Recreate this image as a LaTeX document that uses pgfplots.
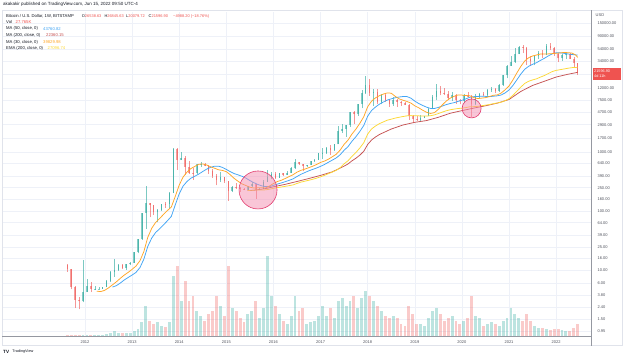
\documentclass[border=0pt]{standalone}
\usepackage{pgfplots}
\pgfplotsset{compat=1.18}
\usepackage{pgfplotstable}
\usepackage{fontspec}
\setmainfont{Liberation Sans}
\definecolor{upc}{RGB}{38,166,154}
\definecolor{dnc}{RGB}{239,83,80}
\definecolor{maA}{RGB}{66,165,245}
\definecolor{maB}{RGB}{255,167,38}
\definecolor{maC}{RGB}{253,216,53}
\definecolor{maD}{RGB}{198,83,83}
\definecolor{txt}{RGB}{19,23,34}
\definecolor{axt}{RGB}{80,83,94}
\definecolor{gridc}{RGB}{238,241,248}
\definecolor{sep}{RGB}{149,152,161}
\definecolor{frame}{RGB}{224,227,235}
\definecolor{pinkf}{RGB}{244,143,177}
\definecolor{pinkd}{RGB}{226,60,110}

\pgfplotstableread{
x o h l c v d
2011.625 12.5 13 9.5 10.5 1 0
2011.708 10.5 10.5 4.8 5.2 1 0
2011.792 5.2 5.5 2.3 3.2 1 0
2011.875 3.2 3.6 2.2 3.0 1 0
2011.958 3.0 15 2.9 4.3 1 1
2012.042 4.3 7.2 4.3 5.5 1 1
2012.125 5.5 6.3 4.3 4.9 1 0
2012.208 4.9 5.4 4.7 4.92 1 1
2012.292 4.92 5.3 4.7 4.95 1 1
2012.375 4.95 5.3 4.9 5.2 1 1
2012.458 5.2 6.8 5.2 6.7 2 1
2012.542 6.7 9.6 6.5 9.3 3 1
2012.625 9.3 15.4 7.8 10.2 5 1
2012.708 10.2 12.6 9.9 12.4 3 1
2012.792 12.4 12.9 10.5 11.2 3 0
2012.875 11.2 13.0 10.2 12.6 3 1
2012.958 12.6 13.9 12.4 13.5 3 1
2013.042 13.5 20.7 13.3 20.4 5 1
2013.125 20.4 33.8 19.5 33.4 7 1
2013.208 33.4 95 33 93 14 1
2013.292 93 266 50 139 30 1
2013.375 139 140 79 129 15 0
2013.458 129 129 88 97 12 0
2013.542 97 110 65 106 14 1
2013.625 106 135 101 135 10 1
2013.708 135 145 114 133 9 0
2013.792 133 210 108 204 14 1
2013.875 204 1163 203 1120 60 1
2013.958 1120 1150 500 732 70 0
2014.042 732 990 730 800 35 1
2014.125 800 850 410 560 55 0
2014.208 560 710 430 450 35 0
2014.292 450 540 340 445 40 0
2014.375 445 630 420 630 25 1
2014.458 630 680 560 640 20 1
2014.542 640 650 575 585 15 0
2014.625 585 600 430 480 22 0
2014.708 480 510 365 388 25 0
2014.792 388 420 275 338 40 0
2014.875 338 460 310 378 30 1
2014.958 378 385 300 320 20 0
2015.042 320 320 152 218 70 0
2015.125 218 265 210 254 28 1
2015.208 254 300 235 244 25 0
2015.292 244 260 215 236 18 0
2015.375 236 245 228 230 14 0
2015.458 230 266 220 263 22 1
2015.542 263 318 253 284 25 1
2015.625 284 284 162 230 35 0
2015.708 230 245 225 236 18 1
2015.792 236 335 236 314 28 1
2015.875 314 500 310 377 80 1
2015.958 377 465 345 430 40 1
2016.042 430 462 350 368 30 0
2016.125 368 445 368 437 22 1
2016.208 437 440 400 416 15 0
2016.292 416 470 412 448 12 1
2016.375 448 550 440 530 20 1
2016.458 530 778 525 675 40 1
2016.542 675 680 600 624 25 0
2016.625 624 630 470 573 28 0
2016.708 573 615 570 609 12 1
2016.792 609 715 605 700 14 1
2016.875 700 755 680 742 15 1
2016.958 742 980 740 964 20 1
2017.042 964 1150 750 970 30 1
2017.125 970 1200 920 1190 20 1
2017.208 1190 1300 890 1080 28 0
2017.292 1080 1370 1050 1350 18 1
2017.375 1350 2760 1350 2300 35 1
2017.458 2300 3000 2100 2480 38 1
2017.542 2480 2920 1830 2860 30 1
2017.625 2860 4750 2700 4700 35 1
2017.708 4700 4980 2970 4340 40 0
2017.792 4340 6470 4100 6470 28 1
2017.875 6470 11400 5500 9950 38 1
2017.958 9950 19650 9500 13800 45 1
2018.042 13800 17200 9000 10100 40 0
2018.125 10100 11800 6000 10300 35 1
2018.208 10300 11700 6500 6900 30 0
2018.292 6900 9750 6420 9240 25 1
2018.375 9240 9990 7040 7490 20 0
2018.458 7490 7760 5780 6390 18 0
2018.542 6390 8500 6070 7730 20 1
2018.625 7730 7870 5880 7030 18 0
2018.708 7030 7400 6100 6630 12 0
2018.792 6630 7000 6200 6370 10 0
2018.875 6370 6600 3500 4020 30 0
2018.958 4020 4250 3150 3690 22 0
2019.042 3690 4090 3350 3440 12 0
2019.125 3440 4200 3380 3820 12 1
2019.208 3820 4130 3700 4100 10 1
2019.292 4100 5620 4050 5320 18 1
2019.375 5320 9080 5300 8560 25 1
2019.458 8560 13880 7450 10800 28 1
2019.542 10800 13150 9070 10080 22 0
2019.625 10080 12330 9350 9600 15 0
2019.708 9600 10950 7700 8300 18 0
2019.792 8300 10380 7300 9150 20 1
2019.875 9150 9500 6500 7550 15 0
2019.958 7550 7740 6430 7190 12 0
2020.042 7190 9580 6880 9350 15 1
2020.125 9350 10500 8430 8560 18 0
2020.208 8560 9190 3850 6420 40 0
2020.292 6420 9460 6150 8630 20 1
2020.375 8630 10070 8100 9450 18 1
2020.458 9450 10400 8900 9140 10 0
2020.542 9140 11440 9000 11340 12 1
2020.625 11340 12470 10550 11650 14 1
2020.708 11650 12080 9880 10780 12 0
2020.792 10780 14100 10400 13800 10 1
2020.875 13800 19900 13200 19700 15 1
2020.958 19700 29300 17600 28990 18 1
2021.042 28990 41950 28700 33140 28 1
2021.125 33140 58350 32300 45200 22 1
2021.208 45200 61800 45000 58800 18 1
2021.292 58800 64900 47000 57750 15 0
2021.375 57750 59600 30000 37300 22 0
2021.458 37300 41300 28800 35000 15 0
2021.542 35000 42300 29300 41500 10 1
2021.625 41500 50500 37300 47100 8 1
2021.708 47100 52900 39600 43800 8 0
2021.792 43800 67000 43300 61300 7 1
2021.875 61300 69000 53300 57000 6 0
2021.958 57000 59000 42000 46200 7 0
2022.042 46200 48000 33000 38500 7 0
2022.125 38500 45800 34300 43200 6 1
2022.208 43200 48200 37200 45500 5 1
2022.292 45500 47400 37600 37700 5 0
2022.375 37700 40000 26700 31800 8 0
2022.458 31800 31900 20080 21600 12 0
}\candles

\pgfplotstableread{
x y
2012.250 4.46
2012.333 4.39
2012.417 4.61
2012.500 5.07
2012.583 5.71
2012.667 6.43
2012.750 7.36
2012.833 8.34
2012.917 9.27
2013.000 10.44
2013.083 11.87
2013.167 14.59
2013.250 20.87
2013.333 36.37
2013.417 51.54
2013.500 64.9
2013.583 75.1
2013.667 88.6
2013.750 103
2013.833 118
2013.917 179
2014.000 277
2014.083 380
2014.167 461
2014.250 528
2014.333 574
2014.417 623
2014.500 631
2014.583 606
2014.667 563
2014.750 534
2014.833 503
2014.917 490
2015.000 467
2015.083 414
2015.167 359
2015.250 321
2015.333 290
2015.417 272
2015.500 255
2015.583 247
2015.667 249
2015.750 249
2015.833 248
2015.917 267
2016.000 294
2016.083 318
2016.167 334
2016.250 358
2016.333 386
2016.417 415
2016.500 458
2016.583 491
2016.667 516
2016.750 545
2016.833 577
2016.917 618
2017.000 669
2017.083 704
2017.167 759
2017.250 834
2017.333 919
2017.417 1084
2017.500 1353
2017.583 1593
2017.667 2021
2017.750 2443
2017.833 3057
2017.917 3957
2018.000 5843
2018.083 7257
2018.167 8257
2018.250 8986
2018.333 9557
2018.417 10000
2018.500 9886
2018.583 8771
2018.667 7943
2018.750 7529
2018.833 7164
2018.917 6736
2019.000 6050
2019.083 5607
2019.167 5100
2019.250 4707
2019.333 4493
2019.417 4643
2019.500 5286
2019.583 6257
2019.667 7271
2019.750 8136
2019.833 8757
2019.917 9214
2020.000 9186
2020.083 9029
2020.167 8929
2020.250 8371
2020.333 8014
2020.417 8157
2020.500 8321
2020.583 8650
2020.667 9121
2020.750 9250
2020.833 9950
2020.917 11279
2021.000 13093
2021.083 16600
2021.167 21800
2021.250 27986
2021.333 34600
2021.417 39357
2021.500 42071
2021.583 43714
2021.667 45429
2021.750 45357
2021.833 45643
2021.917 46143
2022.000 46714
2022.083 47357
2022.167 48357
2022.250 47857
2022.333 47214
2022.417 43571
2022.458 39830
}\maThirty

\pgfplotstableread{
x y
2012.583 5.24
2012.667 5.53
2012.750 6.13
2012.833 6.89
2012.917 7.61
2013.000 8.36
2013.083 9.27
2013.167 11.19
2013.250 15.54
2013.333 25.5
2013.417 35.3
2013.500 43.8
2013.583 50.4
2013.667 59.0
2013.750 69.1
2013.833 82.0
2013.917 128.8
2014.000 197
2014.083 267
2014.167 320
2014.250 363
2014.333 392
2014.417 426
2014.500 470
2014.583 516
2014.667 552
2014.750 578
2014.833 579
2014.917 551
2015.000 510
2015.083 467
2015.167 433
2015.250 412
2015.333 390
2015.417 363
2015.500 330
2015.583 305
2015.667 284
2015.750 269
2015.833 261
2015.917 261
2016.000 274
2016.083 288
2016.167 301
2016.250 316
2016.333 333
2016.417 353
2016.500 387
2016.583 421
2016.667 451
2016.750 482
2016.833 510
2016.917 539
2017.000 574
2017.083 617
2017.167 673
2017.250 732
2017.333 797
2017.417 905
2017.500 1073
2017.583 1237
2017.667 1525
2017.750 1818
2017.833 2229
2017.917 2814
2018.000 4043
2018.083 5046
2018.167 5778
2018.250 6461
2018.333 7026
2018.417 7574
2018.500 7935
2018.583 8283
2018.667 8522
2018.750 8687
2018.833 8687
2018.917 8143
2019.000 7270
2019.083 6626
2019.167 6139
2019.250 5743
2019.333 5470
2019.417 5461
2019.500 5683
2019.583 5991
2019.667 6343
2019.750 6620
2019.833 6843
2019.917 7187
2020.000 7504
2020.083 7920
2020.167 8441
2020.250 8639
2020.333 8717
2020.417 8787
2020.500 8739
2020.583 8652
2020.667 8783
2020.750 8930
2020.833 9226
2020.917 9983
2021.000 11213
2021.083 13378
2021.167 16657
2021.250 20830
2021.333 25070
2021.417 28167
2021.500 30426
2021.583 32413
2021.667 35439
2021.750 38422
2021.833 42152
2021.917 45739
2022.000 47565
2022.083 47565
2022.167 46696
2022.250 45522
2022.333 44652
2022.417 43891
2022.458 43760
}\maFifty

\pgfplotstableread{
x y
2015.450 224
2015.583 226.0
2015.667 231.3
2015.750 236.4
2015.833 242.0
2015.917 249.7
2016.000 258.9
2016.250 285.1
2016.500 318.4
2016.750 357.7
2017.000 403.9
2017.250 463.8
2017.500 579.0
2017.583 630.6
2017.667 711.9
2017.750 786.9
2017.833 886.9
2017.917 1031.9
2018.000 1343.8
2018.083 1603
2018.167 1799.7
2018.250 1984.5
2018.500 2450.6
2018.750 2870.8
2019.000 3182.4
2019.250 3410
2019.500 3873.6
2019.750 4526.7
2020.000 5019.5
2020.250 5534.5
2020.500 6057.3
2020.750 6710.2
2021.000 7741.3
2021.250 10587
2021.500 13380
2021.750 15730
2022.000 18546
2022.250 20665
2022.417 21939
2022.458 22360
}\maTwoH

\pgfplotstableread{
x y
2015.450 224
2015.583 227.6
2015.667 228.5
2015.750 228.8
2015.833 230.1
2015.917 235.6
2016.000 243.9
2016.083 250.7
2016.167 257.0
2016.250 263.7
2016.333 271.0
2016.417 279.0
2016.500 295.2
2016.583 310.7
2016.667 322.1
2016.750 334.1
2016.833 347.1
2016.917 362.9
2017.000 382.3
2017.083 404
2017.167 432
2017.250 460
2017.333 491
2017.417 547
2017.500 634
2017.583 713
2017.667 849
2017.750 983
2017.833 1170
2017.917 1440
2018.000 2016
2018.083 2462
2018.167 2761
2018.250 3026
2018.333 3237
2018.417 3461
2018.500 3599
2018.583 3752
2018.667 3877
2018.750 3993
2018.833 4097
2018.917 4135
2019.000 4116
2019.083 4094
2019.167 4075
2019.250 4070
2019.333 4114
2019.417 4258
2019.500 4481
2019.583 4737
2019.667 4990
2019.750 5190
2019.833 5322
2019.917 5449
2020.000 5527
2020.083 5649
2020.167 5825
2020.250 5866
2020.333 5923
2020.417 6066
2020.500 6210
2020.583 6354
2020.667 6581
2020.750 6756
2020.833 6966
2020.917 7371
2021.000 7993
2021.083 9098
2021.167 10666
2021.250 12550
2021.333 14439
2021.417 15738
2021.500 16578
2021.583 17297
2021.667 18517
2021.750 19664
2021.833 21251
2021.917 22919
2022.000 24027
2022.083 24706
2022.167 25377
2022.250 26105
2022.333 26738
2022.417 26940
2022.458 27097
}\emaTwoH

\newcommand\fs[1]{\fontsize{#1}{#1}\selectfont}

\begin{document}
\begin{tikzpicture}
\useasboundingbox (0pt,0pt) rectangle (624pt,359pt);
\fill[white] (0pt,0pt) rectangle (624pt,359pt);

\begin{axis}[
  at={(3pt,23pt)}, anchor=south west,
  scale only axis, width=588pt, height=324pt,
  xmin=2010.26, xmax=2022.74,
  ymode=log, ymin=0.78, ymax=233000,
  axis line style={draw=none},
  major tick length=0pt,
  xtick={2012,2013,2014,2015,2016,2017,2018,2019,2020,2021,2022},
  xticklabels={2012,2013,2014,2015,2016,2017,2018,2019,2020,2021,2022},
  ytick={0.95,1.5,2.4,3.8,6,10,16,25,39,64,100,160,250,390,640,1000,1700,2900,4700,7500,12000,21000,34000,54000,90000,150000},
  yticklabels={0.95,1.50,2.40,3.80,6.00,10.00,16.00,25.00,39.00,64.00,100.00,160.00,250.00,390.00,640.00,1000.00,1700.00,2900.00,4700.00,7500.00,12000.00,{},34000.00,54000.00,90000.00,150000.00},
  yticklabel pos=right,
  grid=major, grid style={draw=gridc, line width=0.5pt},
  ticklabel style={font=\fs{4}, text=axt},
  yticklabel style={anchor=west, xshift=3pt},
  xticklabel style={yshift=-1.2pt},
]
% wicks
\addplot[draw=none, mark=none, forget plot,
  restrict expr to domain={\thisrow{d}}{0.5:1.5},
  error bars/.cd, y dir=plus, y explicit, error mark=none,
  error bar style={draw=upc, line width=0.45pt, draw opacity=0.6}]
  table[x=x, y=l, y error plus expr={\thisrow{h}-\thisrow{l}}] {\candles};
\addplot[draw=none, mark=none, forget plot,
  restrict expr to domain={\thisrow{d}}{-0.5:0.5},
  error bars/.cd, y dir=plus, y explicit, error mark=none,
  error bar style={draw=dnc, line width=0.45pt, draw opacity=0.6}]
  table[x=x, y=l, y error plus expr={\thisrow{h}-\thisrow{l}}] {\candles};
% bodies
\addplot[draw=none, mark=none, forget plot,
  restrict expr to domain={\thisrow{d}}{0.5:1.5},
  error bars/.cd, y dir=plus, y explicit, error mark=none,
  error bar style={draw=upc, line width=1.5pt, draw opacity=0.55}]
  table[x=x, y=o, y error plus expr={\thisrow{c}-\thisrow{o}}] {\candles};
\addplot[draw=none, mark=none, forget plot,
  restrict expr to domain={\thisrow{d}}{-0.5:0.5},
  error bars/.cd, y dir=plus, y explicit, error mark=none,
  error bar style={draw=dnc, line width=1.5pt, draw opacity=0.55}]
  table[x=x, y=c, y error plus expr={\thisrow{o}-\thisrow{c}}] {\candles};
% moving averages
\addplot[maD, line width=0.75pt, mark=none] table {\maTwoH};
\addplot[maC, line width=0.75pt, mark=none] table {\emaTwoH};
\addplot[maA, line width=0.75pt, mark=none] table {\maFifty};
\addplot[maB, line width=0.75pt, mark=none] table {\maThirty};
% highlight circles
\addplot[only marks, mark=*, mark size=19pt,
  mark options={fill=pinkf, fill opacity=0.5, draw=pinkd, line width=0.6pt}]
  coordinates {(2015.673,229)};
\addplot[only marks, mark=*, mark size=9.5pt,
  mark options={fill=pinkf, fill opacity=0.5, draw=pinkd, line width=0.6pt}]
  coordinates {(2020.206,5468)};
\end{axis}

\begin{axis}[
  at={(3pt,23pt)}, anchor=south west,
  scale only axis, width=588pt, height=324pt,
  xmin=2010.26, xmax=2022.74, ymin=0, ymax=324,
  hide axis,
]
\addplot[ycomb, draw=upc, draw opacity=0.3, line width=2.9pt, mark=none,
  restrict expr to domain={\thisrow{d}}{0.5:1.5}] table[x=x, y=v] {\candles};
\addplot[ycomb, draw=dnc, draw opacity=0.3, line width=2.9pt, mark=none,
  restrict expr to domain={\thisrow{d}}{-0.5:0.5}] table[x=x, y=v] {\candles};
\end{axis}

% panel frame and separators
\draw[frame, line width=0.5pt] (2pt,13.5pt) rectangle (622pt,348.5pt);
\draw[sep, line width=0.6pt] (2pt,23pt) -- (591pt,23pt);
\draw[sep, line width=0.6pt] (591pt,13.5pt) -- (591pt,348.5pt);

% header
\node[anchor=west, inner sep=0pt, font=\fs{4.5}, text=txt] at (3pt,354.2pt)
  {akakakir published on TradingView.com, Jun 15, 2022 09:50 UTC-4};
% legend
\node[anchor=west, inner sep=0pt, font=\fs{4.2}, text=txt] at (6pt,342.8pt)
  {Bitcoin / U.S. Dollar, 1W, BITSTAMP};
\node[anchor=west, inner sep=0pt, font=\fs{3.95}, text=txt] at (81.7pt,342.8pt) {O\textcolor{dnc}{26538.63}};
\node[anchor=west, inner sep=0pt, font=\fs{3.95}, text=txt] at (104.3pt,342.8pt) {H\textcolor{dnc}{26845.63}};
\node[anchor=west, inner sep=0pt, font=\fs{3.95}, text=txt] at (126pt,342.8pt) {L\textcolor{dnc}{20079.72}};
\node[anchor=west, inner sep=0pt, font=\fs{3.95}, text=txt] at (148.5pt,342.8pt) {C\textcolor{dnc}{21596.90}};
\node[anchor=west, inner sep=0pt, font=\fs{3.95}, text=dnc] at (173pt,342.8pt) {−4988.20 (−18.76\%)};
\node[anchor=west, inner sep=0pt, font=\fs{4.2}, text=txt] at (6pt,337pt) {Vol};
\node[anchor=west, inner sep=0pt, font=\fs{4.2}, text=dnc] at (15.5pt,337pt) {27.765K};
\node[anchor=west, inner sep=0pt, font=\fs{4.2}, text=txt] at (6pt,330.3pt) {MA (50, close, 0)};
\node[anchor=west, inner sep=0pt, font=\fs{4.2}, text=maA] at (43pt,330.3pt) {43760.82};
\node[anchor=west, inner sep=0pt, font=\fs{4.2}, text=txt] at (6pt,323.7pt) {MA (200, close, 0)};
\node[anchor=west, inner sep=0pt, font=\fs{4.2}, text=maD] at (46pt,323.7pt) {22360.15};
\node[anchor=west, inner sep=0pt, font=\fs{4.2}, text=txt] at (6pt,317pt) {MA (30, close, 0)};
\node[anchor=west, inner sep=0pt, font=\fs{4.2}, text=maB] at (43pt,317pt) {39829.98};
\node[anchor=west, inner sep=0pt, font=\fs{4.2}, text=txt] at (6pt,310.5pt) {EMA (200, close, 0)};
\node[anchor=west, inner sep=0pt, font=\fs{4.2}, text=maC] at (47.5pt,310.5pt) {27096.74};

% price scale extras
\node[anchor=west, inner sep=0pt, font=\fs{4}, text=axt] at (595.5pt,344pt) {USD};
\fill[dnc] (592.5pt,279pt) rectangle (621pt,290.7pt);
\node[anchor=west, inner sep=0pt, font=\fs{3.8}, text=white] at (594pt,287.6pt) {21596.90};
\node[anchor=west, inner sep=0pt, font=\fs{3.8}, text=white] at (594pt,282.4pt) {4d 11h};

% footer
\node[anchor=west, inner sep=0pt, font=\bfseries\fs{4.6}, text=txt] at (3pt,7.3pt) {TV};
\node[anchor=west, inner sep=0pt, font=\fs{3.8}, text=txt] at (12.3pt,7.3pt) {TradingView};
\end{tikzpicture}
\end{document}
